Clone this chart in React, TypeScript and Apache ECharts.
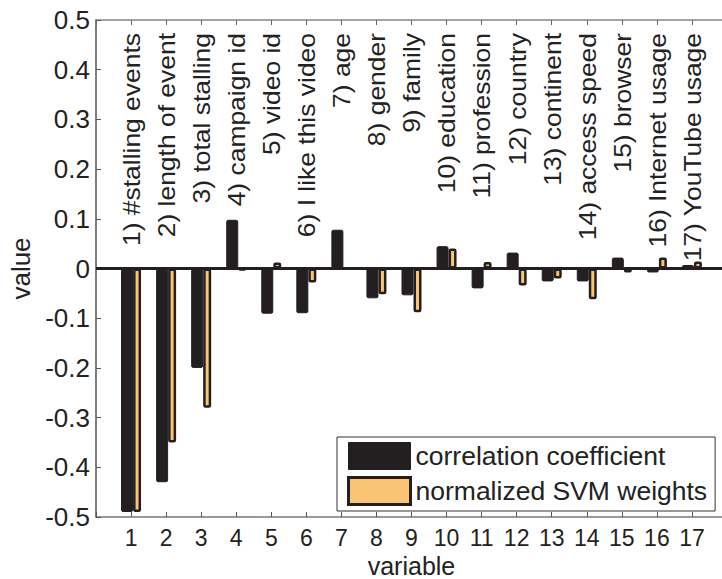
import React, { useEffect, useRef } from "react";
import * as echarts from "echarts";

const tickLabels = ["1","2","3","4","5","6","7","8","9","10","11","12","13","14","15","16","17"];
const variableNames = [
  "1) #stalling events",
  "2) length of event",
  "3) total stalling",
  "4) campaign id",
  "5) video id",
  "6) I like this video",
  "7) age",
  "8) gender",
  "9) family",
  "10) education",
  "11) profession",
  "12) country",
  "13) continent",
  "14) access speed",
  "15) browser",
  "16) Internet usage",
  "17) YouTube usage",
];
const correlation = [-0.49, -0.43, -0.20, 0.098, -0.091, -0.09, 0.078, -0.06, -0.054, 0.045, -0.04, 0.032, -0.026, -0.026, 0.022, -0.008, 0.007];
const svmWeights = [-0.49, -0.35, -0.28, -0.004, 0.012, -0.028, 0.0, -0.052, -0.088, 0.04, 0.013, -0.034, -0.02, -0.062, -0.008, 0.022, 0.014];
const yTicks = { min: -0.5, max: 0.5, interval: 0.1 };

const FONT = "'Liberation Sans', Arial, Helvetica, sans-serif";
const DARK = "#231f20";
const ORANGE = "#F9C473";

export default function App() {
  const ref = useRef<HTMLDivElement>(null);
  useEffect(() => {
    if (!ref.current) return;
    const chart = echarts.init(ref.current, undefined, { renderer: "svg" });
    const cats = ["", ...tickLabels, ""];
    const pad = (arr: number[]) => [null, ...arr, null];
    const axisText = { fontFamily: FONT, color: "#222" };
    chart.setOption({
      animation: false,
      backgroundColor: "#fff",
      grid: { left: 96, top: 20, width: 631, height: 497, outerBoundsMode: "none", containLabel: false },
      legend: {
        orient: "vertical",
        left: 337,
        top: 437,
        padding: [5, 8, 5, 10],
        itemGap: 6,
        itemWidth: 62,
        itemHeight: 27,
        borderColor: "#333",
        borderWidth: 1,
        backgroundColor: "#fff",
        icon: "rect",
        textStyle: { fontFamily: FONT, fontSize: 26.5, color: "#222", lineHeight: 27 },
        data: [
          { name: "correlation coefficient", itemStyle: { color: DARK, borderColor: DARK, borderWidth: 1 } },
          { name: "normalized SVM weights", itemStyle: { color: ORANGE, borderColor: DARK, borderWidth: 3 } },
        ],
      },
      xAxis: [
        {
          type: "category",
          data: cats,
          boundaryGap: false,
          position: "bottom",
          axisLine: { onZero: false, lineStyle: { color: "#777", width: 1.5 } },
          axisTick: { inside: true, length: 5, lineStyle: { color: "#555" } },
          axisLabel: { ...axisText, fontSize: 23, margin: 9, interval: 0 },
          splitLine: { show: false },
          name: "variable",
          nameLocation: "middle",
          nameGap: 32,
          nameTextStyle: { ...axisText, fontSize: 25 },
        },
        {
          type: "category",
          data: cats,
          boundaryGap: false,
          position: "top",
          axisLine: { onZero: false, lineStyle: { color: "#888", width: 1.5 } },
          axisTick: { inside: true, length: 5, lineStyle: { color: "#666" } },
          axisLabel: { show: false },
          splitLine: { show: false },
        },
      ],
      yAxis: [
        {
          type: "value",
          min: yTicks.min,
          max: yTicks.max,
          interval: yTicks.interval,
          position: "left",
          axisLine: { show: true, onZero: false, lineStyle: { color: "#555", width: 1.5 } },
          axisTick: { show: true, inside: true, length: 5, lineStyle: { color: "#555" } },
          axisLabel: {
            ...axisText,
            fontSize: 26,
            margin: 6,
            formatter: (v: number) => String(Math.round(v * 10) / 10),
          },
          splitLine: { show: false },
          name: "value",
          nameLocation: "middle",
          nameGap: 60,
          nameTextStyle: { ...axisText, fontSize: 26 },
        },
        {
          type: "value",
          min: yTicks.min,
          max: yTicks.max,
          interval: yTicks.interval,
          position: "right",
          axisLine: { show: true, onZero: false, lineStyle: { color: "#777", width: 1.5 } },
          axisTick: { show: true, inside: true, length: 5, lineStyle: { color: "#555" } },
          axisLabel: { show: false },
          splitLine: { show: false },
        },
      ],
      series: [
        {
          name: "correlation coefficient",
          type: "bar",
          xAxisIndex: 0,
          yAxisIndex: 0,
          data: pad(correlation),
          barWidth: 12,
          barGap: "0%",
          itemStyle: { color: DARK, borderColor: DARK, borderWidth: 1, borderRadius: 1.5 },
          markLine: {
            silent: true,
            symbol: ["none", "none"],
            label: { show: false },
            lineStyle: { color: DARK, width: 3, type: "solid" },
            data: [{ yAxis: 0 }],
          },
        },
        {
          name: "normalized SVM weights",
          type: "bar",
          xAxisIndex: 0,
          yAxisIndex: 0,
          data: pad(svmWeights),
          barWidth: 8,
          barGap: "0%",
          itemStyle: { color: ORANGE, borderColor: DARK, borderWidth: 2.5, borderRadius: 1 },
        },
        {
          type: "custom",
          xAxisIndex: 0,
          yAxisIndex: 0,
          clip: false,
          silent: true,
          data: variableNames.map((_, i) => [i + 1, yTicks.max]),
          renderItem: (params: any, api: any) => {
            const pt = api.coord([api.value(0), api.value(1)]);
            return {
              type: "text",
              x: pt[0] + 1,
              y: pt[1] + 13,
              rotation: Math.PI / 2,
              scaleX: 1.15,
              style: {
                text: variableNames[params.dataIndex],
                fontFamily: FONT,
                fontSize: 23,
                fill: "#222",
                align: "right",
                verticalAlign: "middle",
              },
            };
          },
        },
      ],
    });
    return () => chart.dispose();
  }, []);
  return (
    <div
      ref={ref}
      style={{ position: "fixed", left: 0, top: 0, width: 722, height: 579, background: "#fff" }}
    />
  );
}
